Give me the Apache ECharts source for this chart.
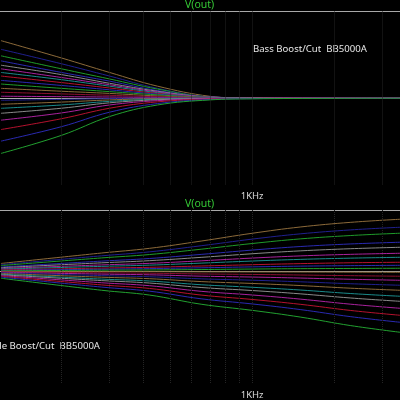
<!DOCTYPE html>
<html>
<head>
<meta charset="utf-8">
<script src="https://cdn.jsdelivr.net/npm/echarts@6/dist/echarts.min.js"></script>
<style>
  html, body { margin: 0; padding: 0; background: #000; }
  #chart { width: 400px; height: 400px; }
</style>
</head>
<body>
<div id="chart"></div>
<script>
// frequencies (Hz) where the bass traces were read
const bassFreqs = [120, 200, 300, 450, 700, 1000, 2000, 3500]
// bass boost/cut traces, dB, top to bottom
const bassCurves = [
  [7.9, 5.5, 3.5, 1.6, 0.2, -0.1, -0.1, -0.1],
  [6.7, 4.7, 3.0, 1.3, 0.1, -0.1, -0.1, -0.05],
  [5.8, 4.0, 2.6, 1.2, 0.1, -0.05, -0.05, -0.05],
  [5.1, 3.5, 2.3, 1.0, 0.1, 0, -0.05, 0],
  [4.5, 3.2, 2.0, 0.9, 0.1, 0, 0, 0],
  [4.0, 2.8, 1.8, 0.8, 0.1, 0, 0, 0],
  [3.5, 2.5, 1.6, 0.7, 0.05, 0, 0, 0],
  [3.0, 2.1, 1.35, 0.6, 0.05, 0, 0, 0],
  [2.4, 1.7, 1.1, 0.5, 0.05, 0, 0, 0],
  [1.9, 1.3, 0.85, 0.4, 0.05, 0, 0, 0],
  [1.3, 0.9, 0.6, 0.25, 0.03, 0, 0, 0],
  [0.76, 0.53, 0.34, 0.15, 0.02, 0, 0, 0],
  [0.21, 0.15, 0.1, 0.04, 0, 0, 0, 0],
  [-0.35, -0.23, -0.12, -0.05, -0.01, 0, 0, 0],
  [-0.9, -0.6, -0.3, -0.12, -0.04, -0.02, 0, 0],
  [-1.46, -1.0, -0.5, -0.2, -0.06, -0.03, 0, 0],
  [-2.15, -1.45, -0.7, -0.28, -0.09, -0.04, -0.02, 0],
  [-3.1, -2.1, -1.0, -0.4, -0.12, -0.06, -0.03, -0.02],
  [-4.4, -2.9, -1.45, -0.57, -0.18, -0.09, -0.04, -0.03],
  [-6.0, -4.0, -2.0, -0.8, -0.24, -0.12, -0.06, -0.05],
  [-7.7, -5.2, -2.6, -1.0, -0.3, -0.15, -0.08, -0.06]
]

// frequencies (Hz) where the treble traces were read
const trebleFreqs = [120, 280, 420, 650, 1000, 1500, 2300, 3500]
// treble boost/cut traces, dB, top to bottom
const trebleCurves = [
  [1.08, 2.53, 3.18, 4.19, 5.27, 6.14, 6.79, 7.22],
  [0.92, 2.14, 2.69, 3.54, 4.46, 5.19, 5.74, 6.11],
  [0.79, 1.85, 2.32, 3.06, 3.85, 4.49, 4.96, 5.28],
  [0.6, 1.41, 1.77, 2.34, 2.94, 3.43, 3.79, 4.03],
  [0.5, 1.17, 1.47, 1.93, 2.43, 2.83, 3.13, 3.33],
  [0.38, 0.88, 1.1, 1.45, 1.83, 2.13, 2.35, 2.5],
  [0.29, 0.68, 0.85, 1.13, 1.42, 1.65, 1.82, 1.94],
  [0.19, 0.44, 0.55, 0.73, 0.91, 1.06, 1.18, 1.25],
  [0.12, 0.29, 0.37, 0.48, 0.61, 0.71, 0.78, 0.83],
  [0.06, 0.15, 0.18, 0.24, 0.31, 0.36, 0.39, 0.42],
  [-0.02, -0.04, -0.05, -0.08, -0.09, -0.1, -0.12, -0.14],
  [-0.08, -0.21, -0.27, -0.37, -0.44, -0.52, -0.61, -0.69],
  [-0.14, -0.39, -0.49, -0.68, -0.8, -0.94, -1.11, -1.25],
  [-0.22, -0.6, -0.76, -1.05, -1.24, -1.46, -1.73, -1.94],
  [-0.3, -0.82, -1.03, -1.43, -1.69, -1.98, -2.35, -2.64],
  [-0.4, -1.08, -1.35, -1.87, -2.22, -2.6, -3.09, -3.47],
  [-0.48, -1.29, -1.63, -2.25, -2.67, -3.13, -3.71, -4.17],
  [-0.59, -1.59, -2.0, -2.78, -3.29, -3.86, -4.57, -5.14],
  [-0.7, -1.89, -2.38, -3.3, -3.91, -4.58, -5.44, -6.11],
  [-0.81, -2.19, -2.76, -3.82, -4.53, -5.31, -6.3, -7.08],
  [-0.97, -2.63, -3.3, -4.57, -5.42, -6.35, -7.54, -8.47]
]

// trace colours, top to bottom
const traceColors = [
  '#8c6a3a', '#20208e', '#1f9a2a', '#2a2ab0', '#8a8a8a', '#a8229c', '#1a8a8a',
  '#b4122e', '#2a2ab0', '#1f9a2a', '#8c6a3a', '#8a1030', '#a8229c', '#20208e',
  '#8c6a3a', '#1a8a8a', '#8a8a8a', '#a8229c', '#b4122e', '#2a2ab0', '#22a030'
]

// vertical grid lines (Hz)
const gridFreqs = [200, 300, 400, 500, 600, 700, 800, 900, 1000, 2000, 3000]

const fMin = 119
const fMax = 3484
const font = 'Noto Sans'

const chart = echarts.init(document.getElementById('chart'))

function bottomAxis(gridIndex) {
  return {
    type: 'log', gridIndex, min: fMin, max: fMax, position: 'bottom',
    axisLine: { show: true, lineStyle: { color: '#a8a8a8', width: 1 } },
    axisTick: { show: false },
    splitLine: { show: false },
    axisLabel: {
      color: '#d8d8d8', fontSize: 9.5, fontFamily: font, margin: 7,
      showMinLabel: false, showMaxLabel: false,
      formatter: v => (Math.abs(v - 1000) < 1 ? '1KHz' : '')
    }
  }
}

function topAxis(gridIndex) {
  return {
    type: 'log', gridIndex, min: fMin, max: fMax, position: 'top',
    axisLine: { show: true, lineStyle: { color: '#a8a8a8', width: 1 } },
    axisTick: { show: false }, axisLabel: { show: false }, splitLine: { show: false }
  }
}

function makeSeries(freqs, curves, axisIdx) {
  return curves.map((vals, i) => {
    const s = {
      type: 'line',
      xAxisIndex: axisIdx, yAxisIndex: axisIdx,
      data: freqs.map((f, j) => [f, vals[j]]),
      smooth: 0.4,
      showSymbol: false,
      silent: true,
      lineStyle: { width: 1, color: traceColors[i] }
    }
    if (i === 0) {
      s.markLine = {
        silent: true, symbol: 'none', label: { show: false },
        lineStyle: { color: '#242424', type: 'dotted', width: 1 },
        data: gridFreqs.map(f => ({ xAxis: f }))
      }
    }
    return s
  })
}

const option = {
  backgroundColor: '#000',
  animation: false,
  grid: [
    { left: 0, right: 0, top: 11, height: 173.5 },
    { left: 0, right: 0, top: 210, height: 173 }
  ],
  xAxis: [bottomAxis(0), bottomAxis(1), topAxis(0), topAxis(1)],
  yAxis: [
    { type: 'value', gridIndex: 0, min: -12, max: 12, show: false, splitLine: { show: false } },
    { type: 'value', gridIndex: 1, min: -15.5, max: 8.5, show: false, splitLine: { show: false } }
  ],
  graphic: [
    { type: 'text', left: 185, top: 0, style: { text: 'V(out)', fill: '#35c935', font: '10.5px "Noto Sans"' } },
    { type: 'text', left: 185, top: 199, style: { text: 'V(out)', fill: '#35c935', font: '10.5px "Noto Sans"' } },
    { type: 'text', left: 253, top: 44, style: { text: 'Bass Boost/Cut  BB5000A', fill: '#e6e6e6', font: '9.6px "Noto Sans"' } },
    { type: 'text', right: 300, top: 341, style: { text: 'Treble Boost/Cut  BB5000A', fill: '#e6e6e6', font: '9.6px "Noto Sans"' } }
  ],
  series: [
    ...makeSeries(bassFreqs, bassCurves, 0),
    ...makeSeries(trebleFreqs, trebleCurves, 1)
  ]
}

chart.setOption(option)
</script>
</body>
</html>
